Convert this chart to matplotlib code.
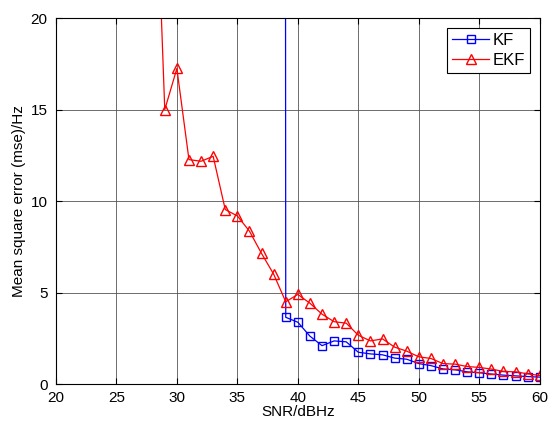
import matplotlib
matplotlib.use("Agg")
import matplotlib.pyplot as plt
import numpy as np

plt.rcParams['font.family'] = ['Liberation Sans', 'DejaVu Sans']

# SNR values (dBHz)
snr_kf = np.arange(38, 61)
snr_ekf = np.arange(27, 61)

# mean square error (Hz); first points are far above the axis
mse_kf = [1000, 3.65, 3.38, 2.62, 2.10, 2.36, 2.31, 1.74, 1.65, 1.60, 1.42, 1.36,
          1.12, 1.01, 0.83, 0.78, 0.67, 0.62, 0.55, 0.49, 0.45, 0.41, 0.38]
mse_ekf = [60, 33.0, 15.0, 17.25, 12.27, 12.18, 12.45, 9.54, 9.19, 8.36, 7.14, 6.01,
           4.50, 4.90, 4.42, 3.82, 3.41, 3.33, 2.67, 2.36, 2.47, 2.02, 1.80,
           1.49, 1.40, 1.12, 1.09, 0.96, 0.91, 0.82, 0.69, 0.67, 0.56, 0.47]

fig = plt.figure(figsize=(5.48, 4.23), dpi=100)
ax = fig.add_axes([0.102, 0.092, 0.883, 0.865])

ax.plot(snr_kf, mse_kf, color='blue', marker='s', markersize=5.5, markerfacecolor='none',
        linewidth=0.9, label='KF')
ax.plot(snr_ekf, mse_ekf, color='red', marker='^', markersize=6.5, markerfacecolor='none',
        linewidth=0.9, label='EKF')

ax.set_xlim(20, 60)
ax.set_ylim(0, 20)
ax.set_xticks(np.arange(20, 61, 5))
ax.set_yticks(np.arange(0, 21, 5))
ax.grid(True, color='#555555', linewidth=0.6, linestyle='-')
ax.tick_params(direction='in', top=True, right=True, labelsize=11, length=4)
ax.tick_params(axis='x', pad=5)
ax.tick_params(axis='y', pad=6)
for s in ax.spines.values():
    s.set_linewidth(0.8)

ax.set_xlabel('SNR/dBHz', fontsize=11, labelpad=0)
ax.set_ylabel('Mean square error (mse)/Hz', fontsize=11, labelpad=3)

leg = ax.legend(loc='upper right', fontsize=12, fancybox=False, framealpha=1,
                edgecolor='black', borderaxespad=0.6, handlelength=2.2,
                handletextpad=0.2, borderpad=0.3, labelspacing=0.3)
leg.get_frame().set_linewidth(0.8)

fig.savefig('out.png', dpi=100)
